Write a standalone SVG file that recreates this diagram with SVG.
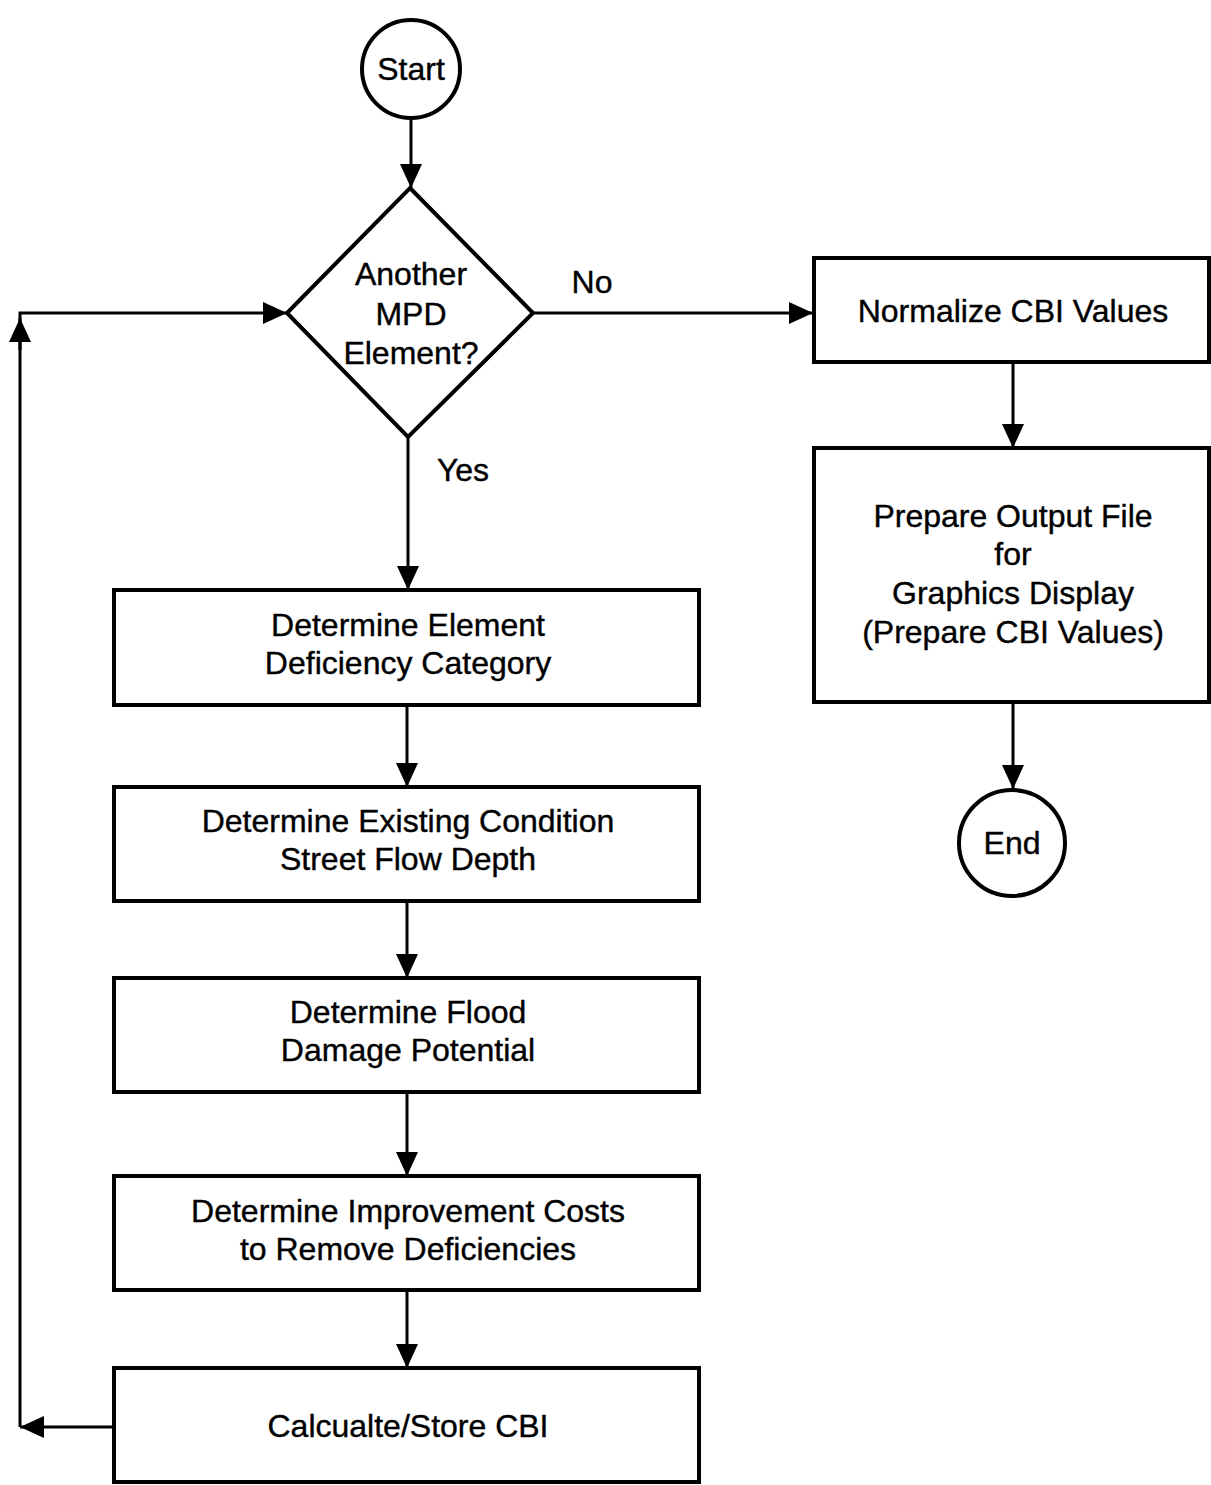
<svg xmlns="http://www.w3.org/2000/svg" width="1211" height="1485" viewBox="0 0 1211 1485">
<defs>
<marker id="arr" markerUnits="userSpaceOnUse" markerWidth="24" markerHeight="22" refX="24" refY="11" orient="auto">
<path d="M0,0 L24,11 L0,22 z" fill="#000"/>
</marker>
<style>
.node{fill:#fff;stroke:#000;stroke-width:4}
.conn{fill:none;stroke:#000;stroke-width:3}
text{font-family:"Liberation Sans",Arial,Helvetica,sans-serif;font-size:32px;fill:#000;stroke:#000;stroke-width:0.4;text-anchor:middle}
</style>
</defs>
<rect width="1211" height="1485" fill="#fff"/>
<g id="connectors">
<path class="conn" d="M411,120 L411,188" marker-end="url(#arr)"/>
<path class="conn" d="M533,313 L813,313" marker-end="url(#arr)"/>
<path class="conn" d="M408,437 L408,590" marker-end="url(#arr)"/>
<path class="conn" d="M407,705 L407,787" marker-end="url(#arr)"/>
<path class="conn" d="M407,902 L407,978" marker-end="url(#arr)"/>
<path class="conn" d="M407,1092 L407,1176" marker-end="url(#arr)"/>
<path class="conn" d="M407,1290 L407,1368" marker-end="url(#arr)"/>
<path class="conn" d="M113,1427 L20,1427" marker-end="url(#arr)"/>
<path class="conn" d="M20,1427 L20,313 L287,313" marker-end="url(#arr)"/>
<path class="conn" d="M20,350 L20,318" marker-end="url(#arr)"/>
<path class="conn" d="M1013,363 L1013,448" marker-end="url(#arr)"/>
<path class="conn" d="M1013,703 L1013,789" marker-end="url(#arr)"/>
<text x="592" y="293">No</text>
<text x="463" y="481">Yes</text>
</g>
<g id="start">
<circle class="node" cx="411" cy="69" r="49"/>
<text x="411" y="80">Start</text>
</g>
<g id="decision">
<polygon class="node" points="410,188 533,313 408,437 287,313"/>
<text x="411" y="285">Another</text>
<text x="411" y="325">MPD</text>
<text x="411" y="364">Element?</text>
</g>
<g id="box1">
<rect class="node" x="114" y="590" width="585" height="115"/>
<text x="408" y="636">Determine Element</text>
<text x="408" y="674">Deficiency Category</text>
</g>
<g id="box2">
<rect class="node" x="114" y="787" width="585" height="114"/>
<text x="408" y="832">Determine Existing Condition</text>
<text x="408" y="870">Street Flow Depth</text>
</g>
<g id="box3">
<rect class="node" x="114" y="978" width="585" height="114"/>
<text x="408" y="1023">Determine Flood</text>
<text x="408" y="1061">Damage Potential</text>
</g>
<g id="box4">
<rect class="node" x="114" y="1176" width="585" height="114"/>
<text x="408" y="1222">Determine Improvement Costs</text>
<text x="408" y="1260">to Remove Deficiencies</text>
</g>
<g id="box5">
<rect class="node" x="114" y="1368" width="585" height="114"/>
<text x="408" y="1437">Calcualte/Store CBI</text>
</g>
<g id="normalize">
<rect class="node" x="814" y="258" width="395" height="104"/>
<text x="1013" y="322">Normalize CBI Values</text>
</g>
<g id="prepare">
<rect class="node" x="814" y="448" width="395" height="254"/>
<text x="1013" y="527">Prepare Output File</text>
<text x="1013" y="565">for</text>
<text x="1013" y="604">Graphics Display</text>
<text x="1013" y="643">(Prepare CBI Values)</text>
</g>
<g id="end">
<circle class="node" cx="1012" cy="843" r="53"/>
<text x="1012" y="854">End</text>
</g>
</svg>
